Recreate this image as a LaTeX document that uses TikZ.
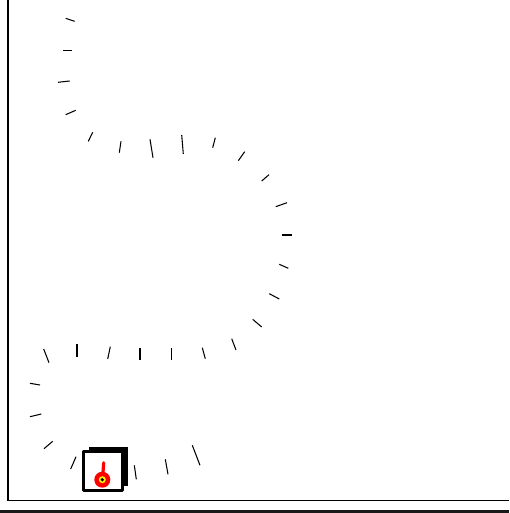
\documentclass[tikz,border=0pt]{standalone}
\begin{document}
\begin{tikzpicture}[x=1pt,y=-1pt,
  tick/.style={draw=black,line width=1.05pt},
  frameline/.style={draw=black,line width=1.5pt}]
\useasboundingbox (0,0) rectangle (509,513);
\fill[white] (0,0) rectangle (509,513);
% frame
\draw[frameline] (7.8,0) -- (7.8,500.3) -- (509,500.3);
\fill[black!90] (0,509.6) rectangle (509,513);
% ticks
\foreach \a/\b/\c/\d in {
65.7/18.3/74.7/21.3, 63/50.5/72/50.5, 58/82.3/69.7/81, 65.7/114.7/75.7/110.3,
88.3/141.3/92.7/132.3, 119.3/152.7/121/141.3, 150/139.3/153/157.7,
181.7/135/183.3/154, 215.3/137.7/212.7/147.7, 244.7/151.7/238.3/160.7,
269/174.7/261.7/181, 287/202.7/275.7/206.7, 282.3/235/292.3/235,
279.3/264.3/288.3/268.3, 269.3/293.7/279.3/299, 252.7/319.3/261.7/327,
231.7/338.7/236/350, 202.3/347.7/205.3/358.7, 171.7/347.7/171.7/360.3,
140/347.7/140/360.3, 110.3/346.7/107.7/359, 77/344/77/356.7, 43.7/349/49/362.7,
30/383.3/40/385, 30/416.7/41.3/414, 44/448.7/52.7/441.3, 70.7/469/76/456.7,
134.3/465.3/136.3/479.3, 165.3/459.3/168/474.3, 192.3/445.3/200/465.3}
  {\draw[tick] (\a,\b) -- (\c,\d);}
% robot
\fill[black] (89,446.7) rectangle (127.8,486);
\draw[fill=white,line width=3pt,line join=round] (83.8,451.6) rectangle (122.9,490.6);
\draw[red,line width=3.2pt,line cap=round] (102.6,478) -- (103.7,462.8);
\fill[red] (102.3,479.7) circle (8);
\fill[yellow] (102.3,479.7) circle (3.5);
\fill[black] (102.3,479.7) circle (1.8);
\end{tikzpicture}
\end{document}
